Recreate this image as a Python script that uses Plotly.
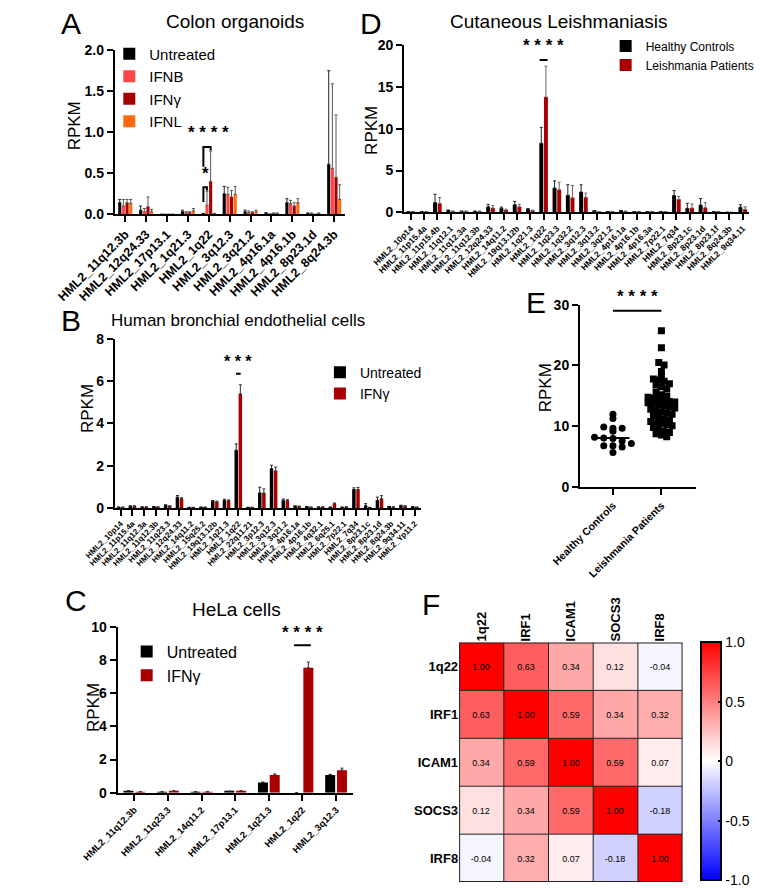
import numpy as np
import plotly.graph_objects as go

W, H = 760, 895
FONT = "Liberation Sans, Arial, sans-serif"

# ---------------- data ----------------
A_CATS = ["HML2_11q12.3b", "HML2_12q24.33", "HML2_17p13.1", "HML2_1q21.3", "HML2_1q22",
          "HML2_3q12.3", "HML2_3q21.2", "HML2_4p16.1a", "HML2_4p16.1b", "HML2_8p23.1d", "HML2_8q24.3b"]
A_UNT = [0.14, 0.05, 0.0, 0.03, 0.01, 0.25, 0.03, 0.01, 0.14, 0.01, 0.61]
A_UNT_ERR = [0.04, 0.05, 0.0, 0.02, 0.0, 0.09, 0.02, 0.01, 0.05, 0.005, 1.14]
A_IFNB = [0.10, 0.03, 0.0, 0.02, 0.11, 0.24, 0.02, 0.0, 0.13, 0.01, 0.56]
A_IFNB_ERR = [0.08, 0.04, 0.0, 0.01, 0.17, 0.09, 0.02, 0.005, 0.04, 0.005, 1.03]
A_IFNG = [0.14, 0.09, 0.0, 0.02, 0.40, 0.21, 0.02, 0.01, 0.10, 0.0, 0.45]
A_IFNG_ERR = [0.04, 0.12, 0.0, 0.01, 0.37, 0.08, 0.01, 0.005, 0.04, 0.0, 0.76]
A_IFNL = [0.13, 0.03, 0.0, 0.04, 0.01, 0.24, 0.03, 0.01, 0.14, 0.01, 0.18]
A_IFNL_ERR = [0.05, 0.03, 0.0, 0.03, 0.0, 0.10, 0.02, 0.005, 0.05, 0.005, 0.18]

B_CATS = ["HML2_10p14", "HML2_11p15.4a", "HML2_11q12.3a", "HML2_11q12.3b", "HML2_11q23.3",
          "HML2_12q24.33", "HML2_14q11.2", "HML2_15q25.2", "HML2_19q13.12b", "HML2_1q21.3",
          "HML2_1q22", "HML2_22q11.21", "HML2_3p12.3", "HML2_3q12.3", "HML2_3q21.2",
          "HML2_4p16.1a", "HML2_4p16.1b", "HML2_4q32.1", "HML2_6q25.1", "HML2_7p22.1",
          "HML2_7q34", "HML2_8p23.1c", "HML2_8p23.1d", "HML2_8q24.3b", "HML2_9q34.11", "HML2_Yp11.2"]
B_UNT = [0.03, 0.08, 0.04, 0.05, 0.12, 0.51, 0.02, 0.03, 0.31, 0.36, 2.73, 0.02, 0.71,
         1.86, 0.36, 0.08, 0.06, 0.04, 0.03, 0.03, 0.87, 0.10, 0.36, 0.05, 0.10, 0.05]
B_UNT_ERR = [0.01, 0.02, 0.01, 0.01, 0.03, 0.08, 0.01, 0.01, 0.04, 0.05, 0.30, 0.01, 0.27,
             0.16, 0.06, 0.02, 0.01, 0.01, 0.01, 0.01, 0.08, 0.10, 0.15, 0.01, 0.03, 0.01]
B_IFNG = [0.03, 0.08, 0.04, 0.04, 0.08, 0.43, 0.02, 0.03, 0.28, 0.34, 5.40, 0.02, 0.70,
          1.75, 0.34, 0.07, 0.03, 0.04, 0.20, 0.04, 0.87, 0.02, 0.43, 0.04, 0.08, 0.03]
B_IFNG_ERR = [0.01, 0.02, 0.01, 0.01, 0.02, 0.05, 0.01, 0.01, 0.04, 0.04, 0.43, 0.01, 0.20,
              0.18, 0.05, 0.01, 0.01, 0.01, 0.03, 0.01, 0.10, 0.01, 0.15, 0.01, 0.02, 0.01]

C_CATS = ["HML2_11q12.3b", "HML2_11q23.3", "HML2_14q11.2", "HML2_17p13.1",
          "HML2_1q21.3", "HML2_1q22", "HML2_3q12.3"]
C_UNT = [0.10, 0.05, 0.05, 0.08, 0.61, 0.0, 1.07]
C_UNT_ERR = [0.02, 0.01, 0.01, 0.01, 0.03, 0.0, 0.04]
C_IFNG = [0.05, 0.10, 0.05, 0.10, 1.07, 7.53, 1.36]
C_IFNG_ERR = [0.01, 0.02, 0.01, 0.02, 0.06, 0.34, 0.12]

D_CATS = ["HML2_10p14", "HML2_11p15.4a", "HML2_11p15.4b", "HML2_11q12.1", "HML2_11q12.3a",
          "HML2_11q12.3b", "HML2_12q24.33", "HML2_14q11.2", "HML2_19q13.12b", "HML2_1q21.3",
          "HML2_1q22", "HML2_1q23.3", "HML2_1q32.2", "HML2_3q12.3", "HML2_3q13.2",
          "HML2_3q21.2", "HML2_4p16.1a", "HML2_4p16.1b", "HML2_4p16.3a", "HML2_7p22.1",
          "HML2_7q34", "HML2_8p23.1c", "HML2_8p23.1d", "HML2_8p23.1f", "HML2_8q24.3b", "HML2_9q34.11"]
D_HC = [0.05, 0.02, 1.17, 0.20, 0.10, 0.10, 0.65, 0.47, 0.90, 0.35, 8.27, 2.90, 2.04,
        2.43, 0.12, 0.05, 0.15, 0.05, 0.05, 0.02, 2.00, 0.47, 0.86, 0.05, 0.0, 0.60]
D_HC_ERR = [0.02, 0.01, 0.98, 0.08, 0.05, 0.05, 0.30, 0.15, 0.40, 0.10, 1.90, 0.86, 1.26,
            0.86, 0.05, 0.02, 0.05, 0.02, 0.02, 0.01, 0.60, 0.60, 0.78, 0.02, 0.0, 0.30]
D_LP = [0.05, 0.02, 1.06, 0.10, 0.10, 0.10, 0.50, 0.27, 0.65, 0.20, 13.8, 2.70, 1.73,
        1.80, 0.05, 0.05, 0.10, 0.05, 0.02, 0.02, 1.55, 0.50, 0.55, 0.02, 0.0, 0.35]
D_LP_ERR = [0.02, 0.01, 0.70, 0.05, 0.05, 0.05, 0.30, 0.10, 0.30, 0.05, 3.70, 0.90, 1.48,
            0.50, 0.02, 0.02, 0.05, 0.02, 0.01, 0.01, 0.35, 0.50, 0.60, 0.01, 0.0, 0.30]

E_GROUPS = ["Healthy Controls", "Leishmania Patients"]
E_HC = [12.0, 11.3, 9.9, 9.7, 9.7, 9.2, 8.2, 8.1, 8.0, 7.6, 7.2, 6.8, 6.8, 6.6, 5.7]
E_LP = [25.7, 22.9, 20.5, 20.1, 19.0, 18.2, 17.8, 17.6, 17.4, 17.0, 16.8, 16.5, 16.2,
        15.6, 15.2, 15.0, 14.8, 14.6, 14.5, 14.3, 14.1, 14.0, 13.9, 13.8, 13.6, 13.4,
        13.2, 13.0, 12.8, 12.6, 12.4, 12.2, 12.0, 11.8, 11.5, 11.2, 11.0, 10.8, 10.6,
        10.5, 10.3, 10.1, 9.8, 9.5, 9.2, 9.0, 8.8, 8.6, 8.3]

F_GENES = ["1q22", "IRF1", "ICAM1", "SOCS3", "IRF8"]
F_CORR = [[1.00, 0.63, 0.34, 0.12, -0.04],
          [0.63, 1.00, 0.59, 0.34, 0.32],
          [0.34, 0.59, 1.00, 0.59, 0.07],
          [0.12, 0.34, 0.59, 1.00, -0.18],
          [-0.04, 0.32, 0.07, -0.18, 1.00]]

BLACK = "#000000"
PINK = "#ff4545"
DARKRED = "#a80000"
ORANGE = "#ff6a10"


def px_x(p):
    return p / W


def px_y(p):
    return 1 - p / H


fig = go.Figure()


def add_bars(cats, vals, errs, name, color, xa, ya, legend, ecolor="#222"):
    fig.add_trace(go.Bar(
        x=cats, y=vals, name=name, marker_color=color, marker_line_width=0,
        error_y=dict(type="data", array=errs, arrayminus=[0] * len(errs), symmetric=False,
                     color=ecolor, thickness=1, width=1.5),
        xaxis=xa, yaxis=ya, legend=legend, offsetgroup=name + xa,
    ))


# A
add_bars(A_CATS, A_UNT, A_UNT_ERR, "Untreated", BLACK, "x", "y", "legend")
add_bars(A_CATS, A_IFNB, A_IFNB_ERR, "IFNB", PINK, "x", "y", "legend", "#555")
add_bars(A_CATS, A_IFNG, A_IFNG_ERR, "IFNγ", DARKRED, "x", "y", "legend", "#555")
add_bars(A_CATS, A_IFNL, A_IFNL_ERR, "IFNL", ORANGE, "x", "y", "legend", "#555")
# B
add_bars(B_CATS, B_UNT, B_UNT_ERR, "Untreated", BLACK, "x2", "y2", "legend2")
add_bars(B_CATS, B_IFNG, B_IFNG_ERR, "IFNγ", DARKRED, "x2", "y2", "legend2", "#333")
# C
add_bars(C_CATS, C_UNT, C_UNT_ERR, "Untreated", BLACK, "x3", "y3", "legend3")
add_bars(C_CATS, C_IFNG, C_IFNG_ERR, "IFNγ", DARKRED, "x3", "y3", "legend3", "#333")
# D
add_bars(D_CATS, D_HC, D_HC_ERR, "Healthy Controls", BLACK, "x4", "y4", "legend4")
add_bars(D_CATS, D_LP, D_LP_ERR, "Leishmania Patients", DARKRED, "x4", "y4", "legend4", "#666")


# E: simple beeswarm
def swarm(vals, bin_w, step):
    bins = {}
    for i, v in enumerate(vals):
        bins.setdefault(int(v // bin_w), []).append(i)
    off = [0.0] * len(vals)
    for idx in bins.values():
        n = len(idx)
        for k, i in enumerate(idx):
            off[i] = (k - (n - 1) / 2) * step
    return off


for gi, (vals, sym, bw, st) in enumerate([(E_HC, "circle", 1.2, 0.19), (E_LP, "square", 1.0, 0.11)]):
    offs = swarm(vals, bw, st)
    fig.add_trace(go.Scatter(
        x=[gi + o for o in offs], y=vals, mode="markers",
        marker=dict(symbol=sym, size=7, color="black"),
        xaxis="x5", yaxis="y5", showlegend=False))
    med = float(np.median(vals))
    fig.add_trace(go.Scatter(
        x=[gi - 0.34, gi + 0.34], y=[med, med], mode="lines",
        line=dict(color="black", width=2), xaxis="x5", yaxis="y5", showlegend=False))

# F heatmap
fig.add_trace(go.Heatmap(
    z=F_CORR, x=list(range(5)), y=list(range(5)),
    zmin=-1, zmax=1,
    colorscale=[[0, "rgb(0,0,255)"], [0.5, "rgb(255,255,255)"], [1, "rgb(255,0,0)"]],
    texttemplate="%{z:.2f}", textfont=dict(size=9, color="black", family=FONT),
    xaxis="x6", yaxis="y6", hoverinfo="skip",
    colorbar=dict(x=px_x(702), xanchor="left", y=px_y(767), yanchor="middle",
                  len=242 / H, lenmode="fraction", thickness=20, thicknessmode="pixels",
                  outlinewidth=2, outlinecolor="black", xpad=0, ypad=0,
                  tickvals=[-1, -0.5, 0, 0.5, 1], ticktext=["-1.0", "-0.5", "0", "0.5", "1.0"],
                  ticks="inside", ticklen=4, tickwidth=2, tickcolor="black",
                  tickfont=dict(size=14, family=FONT, color="black")),
))
for i in range(6):
    lw = 2 if i in (0, 5) else 1
    fig.add_shape(type="line", xref="x6", yref="y6", x0=i - 0.5, x1=i - 0.5, y0=-0.5, y1=4.5,
                  line=dict(color="#222", width=lw), layer="above")
    fig.add_shape(type="line", xref="x6", yref="y6", y0=i - 0.5, y1=i - 0.5, x0=-0.5, x1=4.5,
                  line=dict(color="#222", width=lw), layer="above")


# ---------------- axes ----------------
def bar_axes(n, xdom, ydom, yrange, dtick, xfont, yfmt=None):
    sfx = "" if n == 1 else str(n)
    fig.update_layout(**{
        "xaxis" + sfx: dict(domain=[px_x(xdom[0]), px_x(xdom[1])], anchor="y" + sfx,
                            showline=True, linecolor="black", linewidth=2,
                            ticks="outside", ticklen=6, tickwidth=2, tickcolor="black",
                            tickangle=-45, tickfont=dict(size=xfont, family=FONT, color="black", weight="bold"),
                            showgrid=False, fixedrange=True),
        "yaxis" + sfx: dict(domain=[px_y(ydom[0]), px_y(ydom[1])], anchor="x" + sfx,
                            range=yrange, dtick=dtick, tickformat=yfmt,
                            showline=True, linecolor="black", linewidth=2,
                            ticks="outside", ticklen=6, tickwidth=2, tickcolor="black",
                            tickfont=dict(size=14, family=FONT, color="black", weight="bold"),
                            showgrid=False, zeroline=False),
    })


bar_axes(1, (62, 313), (210, 43), [0, 2.0], 0.5, 12.5, ".1f")
bar_axes(2, (62, 396), (509, 337), [0, 8], 2, 8)
bar_axes(3, (65, 322), (799, 630), [0, 10], 2, 9.5)
bar_axes(4, (378, 755), (208, 38), [0, 20], 5, 8.5)

fig.update_layout(
    xaxis5=dict(domain=[px_x(570), px_x(697)], anchor="y5", range=[-0.68, 1.72],
                tickvals=[0, 1], ticktext=E_GROUPS, tickangle=-45,
                showline=True, linecolor="black", linewidth=2,
                ticks="outside", ticklen=6, tickwidth=2, tickcolor="black",
                tickfont=dict(size=10.5, family=FONT, color="black", weight="bold"),
                showgrid=False, zeroline=False),
    yaxis5=dict(domain=[px_y(488), px_y(302)], anchor="x5", range=[0, 30], dtick=10,
                showline=True, linecolor="black", linewidth=2,
                ticks="outside", ticklen=6, tickwidth=2, tickcolor="black",
                tickfont=dict(size=14, family=FONT, color="black", weight="bold"),
                showgrid=False, zeroline=False),
    xaxis6=dict(domain=[px_x(438), px_x(682)], anchor="y6", range=[-0.5, 4.5], side="top",
                tickvals=list(range(5)), ticktext=F_GENES, tickangle=-90, ticks="",
                tickfont=dict(size=13, family=FONT, color="black", weight="bold"),
                showgrid=False, zeroline=False, showline=False),
    yaxis6=dict(domain=[px_y(890), px_y(646)], anchor="x6", range=[4.5, -0.5],
                tickvals=list(range(5)), ticktext=F_GENES, ticks="",
                tickfont=dict(size=13, family=FONT, color="black", weight="bold"),
                showgrid=False, zeroline=False, showline=False),
)

# ---------------- legends ----------------
def leg(xp, ytop, size):
    return dict(x=px_x(xp), y=px_y(ytop), xanchor="left", yanchor="top",
                bgcolor="rgba(0,0,0,0)", borderwidth=0, itemclick=False,
                font=dict(size=size, family=FONT, color="black"), tracegroupgap=2)


fig.update_layout(
    legend=leg(56, 30, 15),
    legend2=leg(286, 355, 14),
    legend3=leg(75, 638, 16),
    legend4=leg(598, 24, 12),
)

# ---------------- annotations ----------------
ann = []


def text(x, y, s, size, bold=False, angle=0, xanchor="center"):
    ann.append(dict(x=px_x(x), y=px_y(y), xref="paper", yref="paper", text=s, showarrow=False,
                    textangle=angle, xanchor=xanchor, yanchor="middle",
                    font=dict(size=size, family=FONT, color="black", weight="bold" if bold else "normal")))


text(14, 16, "A", 30)
text(342, 16, "D", 30)
text(14, 318, "B", 30)
text(20, 603, "C", 30)
text(522, 300, "E", 30)
text(407, 607, "F", 30)
text(193, 14, "Colon organoids", 19)
text(547, 14, "Cutaneous Leishmaniasis", 19)
text(197, 318, "Human bronchial endothelial cells", 17)
text(195, 612, "HeLa cells", 19)
text(18, 120, "RPKM", 17, angle=-90)
text(343, 125, "RPKM", 17, angle=-90)
text(32, 408, "RPKM", 17, angle=-90)
text(38, 712, "RPKM", 17, angle=-90)
text(532, 387, "RPKM", 17, angle=-90)


def star(xref, yref, x, y, s, size=17):
    ann.append(dict(x=x, y=y, xref=xref, yref=yref, text=s, showarrow=False,
                    yanchor="bottom", font=dict(size=size, family=FONT, color="black", weight="bold")))


star("x", "y", 4.0, 0.86, "* * * *")
star("x", "y", 3.85, 0.36, "*")
star("x2", "y2", 10, 6.45, "* * *", 16)
star("x3", "y3", 5, 8.95, "* * * *")
star("x4", "y4", 10, 18.6, "* * * *")
star("x5", "y5", 0.5, 29.5, "* * * *")
fig.update_layout(annotations=ann)

# significance brackets / bars
def seg(xref, yref, pts):
    path = "M " + " L ".join(f"{a},{b}" for a, b in pts)
    fig.add_shape(type="path", xref=xref, yref=yref, path=path,
                  line=dict(color="black", width=2), layer="above")


seg("x", "y", [(3.74, 0.58), (3.74, 0.82), (4.09, 0.82), (4.09, 0.78)])
seg("x", "y", [(3.74, 0.15), (3.74, 0.33), (3.91, 0.33), (3.91, 0.29)])
seg("x2", "y2", [(9.8, 6.35), (10.2, 6.35)])
seg("x3", "y3", [(4.75, 8.88), (5.25, 8.88)])
seg("x4", "y4", [(9.7, 18.25), (10.3, 18.25)])
seg("x5", "y5", [(0, 29.0), (1, 29.0)])

fig.update_layout(
    width=W, height=H, margin=dict(l=0, r=0, t=0, b=0),
    paper_bgcolor="white", plot_bgcolor="white",
    barmode="group", bargap=0.3, bargroupgap=0.15,
    font=dict(family=FONT, color="black"),
)

# page body has an 8px default margin; drop it so the figure fills the window
fig.write_html("out.html", config={"displayModeBar": False},
               post_script="document.body.style.margin='0';document.body.style.overflow='hidden';")
